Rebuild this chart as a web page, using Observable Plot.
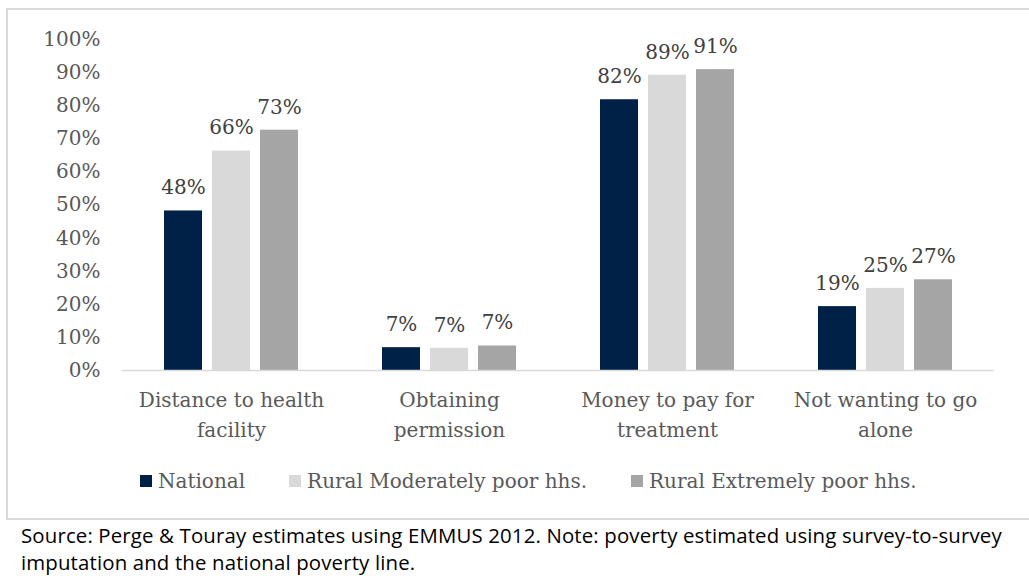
<!DOCTYPE html>
<html>
<head>
<meta charset="utf-8">
<script src="https://cdn.jsdelivr.net/npm/d3@7"></script>
<script src="https://cdn.jsdelivr.net/npm/@observablehq/plot@0.6"></script>
<style>
  html, body { margin: 0; padding: 0; background: #fff; width: 1029px; height: 576px; overflow: hidden; }
  #box { position: absolute; left: 6px; top: 8px; width: 1030px; height: 512px; box-sizing: border-box;
         border: 2px solid #d9d9d9; border-right: none; }
  #chart { position: absolute; left: 0; top: 0; }
  #legend { position: absolute; left: 140px; top: 470px; height: 22px; display: flex; align-items: center; gap: 44px;
            font-family: "DejaVu Serif"; font-size: 20px; color: #595959; white-space: nowrap; }
  #legend .item { display: flex; align-items: center; }
  #legend .sw { width: 12px; height: 12px; margin-right: 6px; display: inline-block; }
  #caption { position: absolute; left: 21px; top: 522px; font-family: "Open Sans"; font-size: 20.4px; line-height: 27px;
             letter-spacing: 0.15px; color: #000; }
  #caption div { white-space: nowrap; height: 27px; }
</style>
</head>
<body>
<div id="box"></div>
<div id="chart"></div>
<div id="legend"></div>
<div id="caption"></div>
<script>
const categories = ["Distance to health facility", "Obtaining permission", "Money to pay for treatment", "Not wanting to go alone"];
const categoryLabels = ["Distance to health\nfacility", "Obtaining\npermission", "Money to pay for\ntreatment", "Not wanting to go\nalone"];
const series = ["National", "Rural Moderately poor hhs.", "Rural Extremely poor hhs."];
const national = [48.2, 6.9, 81.8, 19.3];
const moderate = [66.3, 6.7, 89.2, 24.8];
const extreme = [72.6, 7.4, 90.9, 27.4];
const colors = ["#002147", "#d9d9d9", "#a5a5a5"];
const yTicks = [0, 10, 20, 30, 40, 50, 60, 70, 80, 90, 100];
const captionLines = [
  "Source: Perge & Touray estimates using EMMUS 2012. Note: poverty estimated using survey-to-survey",
  "imputation and the national poverty line."
];

const seriesValues = [national, moderate, extreme];
const data = categories.flatMap((c, i) => series.map((s, j) => ({category: c, series: s, value: seriesValues[j][i]})));

const chart = Plot.plot({
  width: 1029,
  height: 460,
  marginTop: 39,
  marginBottom: 90,
  marginLeft: 121,
  marginRight: 34,
  style: {fontFamily: "DejaVu Serif", fontSize: "20px", color: "#595959", background: "transparent", overflow: "visible"},
  fx: {domain: categories, padding: 0},
  x: {domain: series, paddingInner: 0.216, paddingOuter: 0.86, axis: null},
  y: {domain: [0, 100]},
  color: {domain: series, range: colors},
  marks: [
    Plot.axisY({ticks: yTicks, tickFormat: d => d + "%", tickSize: 0, tickPadding: 22, fontSize: 20, label: null, fill: "#595959"}),
    Plot.axisFx({anchor: "bottom", tickSize: 0, tickPadding: 15, lineHeight: 1.5, fontSize: 20, label: null, fill: "#595959",
                 tickFormat: c => categoryLabels[categories.indexOf(c)]}),
    Plot.barY(data, {fx: "category", x: "series", y: "value", fill: "series"}),
    Plot.ruleY([0], {stroke: "#d9d9d9", strokeWidth: 1.5}),
    Plot.text(data, {fx: "category", x: "series", y: "value", text: d => Math.round(d.value) + "%", dy: -23, fill: "#404040", fontSize: 20})
  ]
});
document.getElementById("chart").appendChild(chart);

const legend = document.getElementById("legend");
series.forEach((s, j) => {
  const item = document.createElement("div");
  item.className = "item";
  const sw = document.createElement("span");
  sw.className = "sw";
  sw.style.background = colors[j];
  const label = document.createElement("span");
  label.textContent = s;
  item.appendChild(sw);
  item.appendChild(label);
  legend.appendChild(item);
});
const caption = document.getElementById("caption");
captionLines.forEach(t => {
  const line = document.createElement("div");
  line.textContent = t;
  caption.appendChild(line);
});
</script>
</body>
</html>
